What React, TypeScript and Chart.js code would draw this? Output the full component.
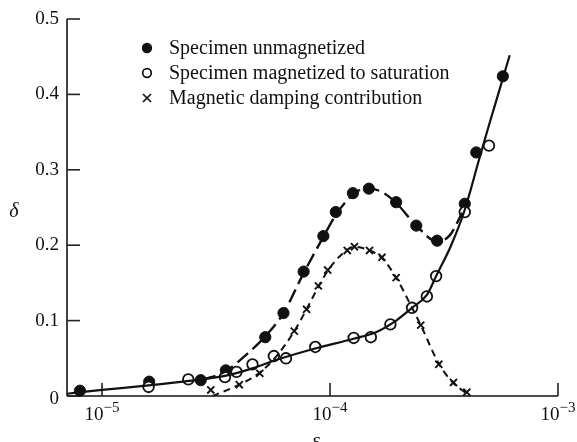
import React, { useEffect, useRef } from "react";
import { Chart, registerables } from "chart.js";

Chart.register(...registerables);

// ---- data ----
// Specimen unmagnetized (filled circles)
const unmagX = [8.0e-6, 1.61e-5, 2.71e-5, 3.49e-5, 5.2e-5, 6.25e-5, 7.66e-5, 9.35e-5, 1.06e-4, 1.26e-4, 1.48e-4, 1.95e-4, 2.39e-4, 2.95e-4, 3.9e-4, 4.38e-4, 5.73e-4];
const unmagY = [0.007, 0.019, 0.021, 0.034, 0.078, 0.11, 0.165, 0.212, 0.244, 0.269, 0.275, 0.257, 0.226, 0.206, 0.255, 0.323, 0.424];

// Specimen magnetized to saturation (open circles)
const satX = [1.6e-5, 2.39e-5, 3.46e-5, 3.89e-5, 4.57e-5, 5.67e-5, 6.41e-5, 8.62e-5, 1.27e-4, 1.51e-4, 1.84e-4, 2.29e-4, 2.66e-4, 2.92e-4, 3.9e-4, 4.98e-4];
const satY = [0.012, 0.022, 0.025, 0.032, 0.042, 0.053, 0.05, 0.065, 0.077, 0.078, 0.095, 0.117, 0.132, 0.159, 0.244, 0.332];

// Magnetic damping contribution (crosses)
const dampX = [3.0e-5, 4.0e-5, 4.92e-5, 6.97e-5, 7.89e-5, 8.89e-5, 9.77e-5, 1.19e-4, 1.28e-4, 1.49e-4, 1.69e-4, 1.95e-4, 2.5e-4, 3.0e-4, 3.48e-4, 3.98e-4];
const dampY = [0.008, 0.015, 0.03, 0.086, 0.115, 0.146, 0.167, 0.193, 0.198, 0.193, 0.184, 0.157, 0.094, 0.042, 0.018, 0.005];

// Hand-drawn fitted curves
const solidFitX = [7.02e-6, 1.0e-5, 1.6e-5, 2.4e-5, 3.5e-5, 4.6e-5, 5.7e-5, 8.6e-5, 1.27e-4, 1.6e-4, 1.95e-4, 2.29e-4, 2.66e-4, 2.92e-4, 3.4e-4, 3.9e-4, 4.5e-4, 5.0e-4, 5.5e-4, 6.14e-4];
const solidFitY = [0.003, 0.008, 0.014, 0.02, 0.027, 0.037, 0.047, 0.063, 0.076, 0.085, 0.1, 0.117, 0.134, 0.159, 0.2, 0.247, 0.313, 0.361, 0.403, 0.452];

const unmagFitX = [2.75e-5, 3.49e-5, 4.3e-5, 5.2e-5, 6.25e-5, 7.66e-5, 9.35e-5, 1.06e-4, 1.26e-4, 1.45e-4, 1.7e-4, 1.95e-4, 2.39e-4, 2.95e-4, 3.35e-4, 3.8e-4];
const unmagFitY = [0.021, 0.033, 0.055, 0.079, 0.11, 0.163, 0.211, 0.24, 0.267, 0.276, 0.27, 0.256, 0.226, 0.205, 0.213, 0.243];

const dampFitX = [3.05e-5, 4.0e-5, 4.92e-5, 5.9e-5, 6.97e-5, 7.89e-5, 8.89e-5, 9.77e-5, 1.1e-4, 1.28e-4, 1.49e-4, 1.69e-4, 1.95e-4, 2.29e-4, 2.5e-4, 3.0e-4, 3.48e-4, 3.95e-4];
const dampFitY = [0.0, 0.015, 0.031, 0.055, 0.086, 0.115, 0.145, 0.166, 0.185, 0.198, 0.193, 0.183, 0.157, 0.117, 0.094, 0.043, 0.017, 0.004];

const yTicks = [0, 0.1, 0.2, 0.3, 0.4, 0.5];
const yTickLabels = ["0", "0.1", "0.2", "0.3", "0.4", "0.5"];
const xTicks = [1e-5, 1e-4, 1e-3];
const xTickExps = ["−5", "−4", "−3"];
const legendLabels = [
  "Specimen unmagnetized",
  "Specimen magnetized to saturation",
  "Magnetic damping contribution",
];

const SERIF = '"Liberation Serif", "DejaVu Serif", serif';

const pts = (xs: number[], ys: number[]) => xs.map((x, i) => ({ x, y: ys[i] }));

const decorPlugin = {
  id: "decor",
  beforeDatasetsDraw(chart: any) {
    const { ctx, chartArea, scales } = chart;
    const xs = scales.x;
    const ys = scales.y;
    ctx.save();
    // y axis
    ctx.strokeStyle = "#444";
    ctx.lineWidth = 2;
    ctx.beginPath();
    ctx.moveTo(chartArea.left, ys.getPixelForValue(0.5));
    ctx.lineTo(chartArea.left, chartArea.bottom);
    ctx.stroke();
    // x axis
    ctx.strokeStyle = "#111";
    ctx.lineWidth = 1.6;
    ctx.beginPath();
    ctx.moveTo(chartArea.left, chartArea.bottom);
    ctx.lineTo(xs.getPixelForValue(1e-3), chartArea.bottom);
    ctx.stroke();
    // y ticks
    ctx.strokeStyle = "#222";
    ctx.lineWidth = 1.6;
    yTicks.forEach((v) => {
      const py = ys.getPixelForValue(v);
      ctx.beginPath();
      ctx.moveTo(chartArea.left, py);
      ctx.lineTo(chartArea.left + 13, py);
      ctx.stroke();
    });
    // x ticks
    xTicks.forEach((v) => {
      const px = xs.getPixelForValue(v);
      ctx.beginPath();
      ctx.moveTo(px, chartArea.bottom);
      ctx.lineTo(px, chartArea.bottom - 13);
      ctx.stroke();
    });
    ctx.restore();
  },
  afterDatasetsDraw(chart: any) {
    const { ctx, chartArea, scales } = chart;
    const xs = scales.x;
    const ys = scales.y;
    ctx.save();
    ctx.fillStyle = "#111";
    // y labels
    ctx.font = `19px ${SERIF}`;
    ctx.textAlign = "right";
    ctx.textBaseline = "middle";
    yTicks.forEach((v, i) => {
      const py = ys.getPixelForValue(v) + (v === 0 ? 3 : 0);
      ctx.fillText(yTickLabels[i], 59, py);
    });
    // x labels with superscripts
    ctx.textBaseline = "alphabetic";
    ctx.textAlign = "left";
    xTicks.forEach((v, i) => {
      const px = xs.getPixelForValue(v);
      ctx.font = `19px ${SERIF}`;
      const w1 = ctx.measureText("10").width;
      ctx.font = `15px ${SERIF}`;
      const w2 = ctx.measureText(xTickExps[i]).width;
      const start = px - (w1 + w2) / 2;
      const base = chartArea.bottom + 24;
      ctx.font = `19px ${SERIF}`;
      ctx.fillText("10", start, base);
      ctx.font = `15px ${SERIF}`;
      ctx.fillText(xTickExps[i], start + w1, base - 8);
    });
    // axis titles
    ctx.font = `italic 20px ${SERIF}`;
    ctx.textAlign = "center";
    ctx.fillText("δ", 14, 217);
    ctx.fillText("ε", 316, 447);
    // legend
    const lx = 147;
    const rows = [48, 73, 98];
    ctx.font = `20px ${SERIF}`;
    ctx.textAlign = "left";
    ctx.textBaseline = "middle";
    rows.forEach((ry, i) => {
      ctx.fillStyle = "#111";
      ctx.fillText(legendLabels[i], 169, ry + 1);
    });
    // markers
    ctx.lineWidth = 1.7;
    ctx.strokeStyle = "#111";
    ctx.fillStyle = "#111";
    ctx.beginPath();
    ctx.arc(lx, rows[0], 5.2, 0, Math.PI * 2);
    ctx.fill();
    ctx.beginPath();
    ctx.arc(lx, rows[1], 4.3, 0, Math.PI * 2);
    ctx.fillStyle = "#fff";
    ctx.fill();
    ctx.stroke();
    const c = 4;
    ctx.beginPath();
    ctx.moveTo(lx - c, rows[2] - c);
    ctx.lineTo(lx + c, rows[2] + c);
    ctx.moveTo(lx + c, rows[2] - c);
    ctx.lineTo(lx - c, rows[2] + c);
    ctx.stroke();
    ctx.restore();
  },
};

export default function App() {
  const ref = useRef<HTMLCanvasElement | null>(null);
  useEffect(() => {
    if (!ref.current) return;
    const chart = new Chart(ref.current, {
      type: "scatter",
      data: {
        datasets: [
          {
            label: "fit-solid",
            data: pts(solidFitX, solidFitY),
            showLine: true,
            borderColor: "#111",
            borderWidth: 2.2,
            pointRadius: 0,
            cubicInterpolationMode: "monotone",
          },
          {
            label: "fit-unmag",
            data: pts(unmagFitX, unmagFitY),
            showLine: true,
            borderColor: "#111",
            borderWidth: 2.4,
            borderDash: [14, 6],
            pointRadius: 0,
            cubicInterpolationMode: "monotone",
          },
          {
            label: "fit-damp",
            data: pts(dampFitX, dampFitY),
            showLine: true,
            borderColor: "#111",
            borderWidth: 2,
            borderDash: [7, 5],
            pointRadius: 0,
            cubicInterpolationMode: "monotone",
          },
          {
            label: legendLabels[2],
            data: pts(dampX, dampY),
            showLine: false,
            pointStyle: "crossRot",
            pointRadius: 5,
            borderColor: "#111",
            borderWidth: 1.9,
            clip: false,
          },
          {
            label: legendLabels[1],
            data: pts(satX, satY),
            showLine: false,
            pointStyle: "circle",
            pointRadius: 5.3,
            backgroundColor: "#fff",
            borderColor: "#111",
            borderWidth: 1.8,
            clip: false,
          },
          {
            label: legendLabels[0],
            data: pts(unmagX, unmagY),
            showLine: false,
            pointStyle: "circle",
            pointRadius: 5.6,
            backgroundColor: "#111",
            borderColor: "#111",
            borderWidth: 1,
            clip: false,
          },
        ],
      },
      options: {
        animation: false,
        responsive: false,
        layout: { padding: { top: 19, right: 19, left: 0, bottom: 0 } },
        plugins: { legend: { display: false }, tooltip: { enabled: false } },
        scales: {
          x: {
            type: "logarithmic",
            min: 7.02e-6,
            max: 1e-3,
            ticks: { display: false },
            grid: { display: false },
            border: { display: false },
            afterFit: (s: any) => {
              s.height = 46;
            },
          },
          y: {
            type: "linear",
            min: 0,
            max: 0.5,
            ticks: { display: false },
            grid: { display: false },
            border: { display: false },
            afterFit: (s: any) => {
              s.width = 67;
            },
          },
        },
      },
      plugins: [decorPlugin],
    });
    return () => chart.destroy();
  }, []);
  return (
    <div style={{ position: "fixed", left: 0, top: 0, width: 577, height: 442, background: "#fff" }}>
      <canvas ref={ref} width={577} height={442} style={{ display: "block" }} />
    </div>
  );
}
